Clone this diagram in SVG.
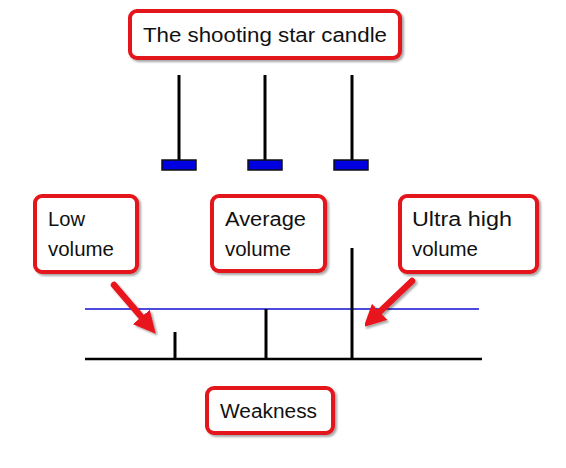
<svg xmlns="http://www.w3.org/2000/svg" width="566" height="468" viewBox="0 0 566 468">
<defs>
<filter id="sh" x="-10%" y="-10%" width="130%" height="140%">
<feDropShadow dx="2" dy="2" stdDeviation="1.2" flood-color="#000" flood-opacity="0.35"/>
</filter>
<marker id="ah" viewBox="0 0 10 10" refX="6" refY="5" markerWidth="3.4" markerHeight="3.4" orient="auto" markerUnits="strokeWidth">
<path d="M0,0 L10,5 L0,10 Z" fill="#e8141b"/>
</marker>
</defs>
<style>
.box{fill:#fff;stroke:#e3121a;stroke-width:4;filter:url(#sh)}
.t{font-family:"Liberation Sans","DejaVu Sans",sans-serif;font-size:20px;fill:#111}
.wick{stroke:#000;stroke-width:3}
.body{fill:#0000e0;stroke:#111;stroke-width:1.5}
.arr{stroke:#e8141b;stroke-width:6.5;stroke-linecap:round;fill:none;marker-end:url(#ah);filter:url(#sh)}
</style>
<rect width="566" height="468" fill="#fff"/>
<g id="title">
<rect class="box" x="130" y="11" width="270" height="47" rx="7"/>
<text class="t" x="143" y="42" font-size="21" textLength="244" lengthAdjust="spacingAndGlyphs">The shooting star candle</text>
</g>
<g id="candles">
<line class="wick" x1="179" y1="75" x2="179" y2="162"/>
<rect class="body" x="162" y="160" width="34" height="10"/>
<line class="wick" x1="265" y1="75" x2="265" y2="162"/>
<rect class="body" x="248" y="160" width="34" height="10"/>
<line class="wick" x1="352" y1="75" x2="352" y2="162"/>
<rect class="body" x="334" y="160" width="34" height="10"/>
</g>
<g id="low">
<rect class="box" x="35" y="196" width="102" height="76" rx="7"/>
<text class="t" x="48" y="226" textLength="37" lengthAdjust="spacingAndGlyphs">Low</text>
<text class="t" x="48" y="256" textLength="66" lengthAdjust="spacingAndGlyphs">volume</text>
</g>
<g id="average">
<rect class="box" x="212" y="196" width="113" height="75" rx="7"/>
<text class="t" x="225" y="226" textLength="81" lengthAdjust="spacingAndGlyphs">Average</text>
<text class="t" x="225" y="256" textLength="66" lengthAdjust="spacingAndGlyphs">volume</text>
</g>
<g id="ultra">
<rect class="box" x="400" y="196" width="137" height="76" rx="7"/>
<text class="t" x="412" y="226" textLength="100" lengthAdjust="spacingAndGlyphs">Ultra high</text>
<text class="t" x="412" y="256" textLength="66" lengthAdjust="spacingAndGlyphs">volume</text>
</g>
<g id="weakness">
<rect class="box" x="207" y="388" width="126" height="45" rx="7"/>
<text class="t" x="220" y="418" textLength="97" lengthAdjust="spacingAndGlyphs">Weakness</text>
</g>
<g id="chart">
<line x1="85" y1="309" x2="479" y2="309" stroke="#1010d0" stroke-width="1.5"/>
<line x1="85" y1="359" x2="482" y2="359" stroke="#000" stroke-width="2.5"/>
<line x1="175" y1="332" x2="175" y2="359" stroke="#000" stroke-width="3"/>
<line x1="266" y1="309" x2="266" y2="359" stroke="#000" stroke-width="3"/>
<line x1="352" y1="248" x2="352" y2="359" stroke="#000" stroke-width="3"/>
</g>
<g id="connectors">
<line class="arr" x1="114" y1="285" x2="150" y2="327"/>
<line class="arr" x1="266" y1="277" x2="266" y2="292"/>
<line class="arr" x1="412" y1="281" x2="370" y2="321"/>
</g>
</svg>
